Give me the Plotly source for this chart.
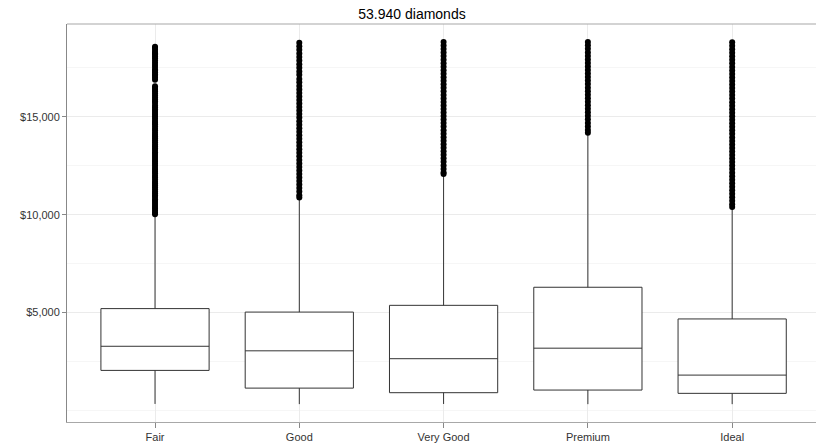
import plotly.graph_objects as go

cuts = ["Fair", "Good", "Very Good", "Premium", "Ideal"]
q1 = [2050, 1145, 912, 1046, 878]
median = [3282, 3050, 2648, 3185, 1810]
q3 = [5206, 5028, 5373, 6296, 4678]
lower_whisker = [337, 327, 336, 326, 326]
upper_whisker = [9930, 10850, 12060, 14170, 10380]

out_fair = [18574, 18531, 18420, 18307, 18242, 18188, 18080, 17995, 17880, 17760, 17648, 17540,
            17420, 17368, 17280, 17180, 17100, 17000, 16895, 16560, 16470, 16386, 16290, 16190,
            16090, 15990, 15890, 15790, 15700, 15584, 15490, 15390, 15300, 15190, 15100, 15000,
            14900, 14790, 14700, 14615, 14500, 14390, 14300, 14190, 14090, 13990, 13900, 13800,
            13700, 13590, 13500, 13400, 13300, 13190, 13100, 13000, 12900, 12790, 12700, 12600,
            12500, 12390, 12300, 12200, 12100, 11990, 11900, 11800, 11690, 11600, 11500, 11400,
            11300, 11190, 11100, 11000, 10900, 10790, 10700, 10600, 10500, 10400, 10300, 10200,
            10100, 10030]
out_good = [18788, 18600, 18420, 18230, 18050, 17870, 17690, 17500, 17320, 17150, 16930, 16760,
            16580, 16400, 16220, 16040, 15860, 15680, 15500, 15320, 15140, 14960, 14780, 14600,
            14420, 14240, 14060, 13880, 13700, 13520, 13340, 13160, 12980, 12800, 12620, 12440,
            12260, 12080, 11900, 11720, 11540, 11360, 11180, 11000, 10880]
out_verygood = [18818, 18640, 18460, 18280, 18100, 17920, 17740, 17560, 17380, 17200, 17020,
                16840, 16660, 16480, 16300, 16120, 15940, 15760, 15580, 15400, 15220, 15040,
                14860, 14680, 14500, 14320, 14140, 13960, 13780, 13600, 13420, 13240, 13060,
                12880, 12700, 12520, 12340, 12160, 12080]
out_premium = [18823, 18650, 18470, 18290, 18110, 17930, 17750, 17570, 17390, 17210, 17030,
               16850, 16670, 16490, 16310, 16130, 15950, 15770, 15590, 15410, 15230, 15050,
               14870, 14690, 14510, 14330, 14190]
out_ideal = [18806, 18630, 18450, 18270, 18090, 17910, 17730, 17550, 17370, 17190, 17010,
             16830, 16650, 16470, 16290, 16110, 15930, 15750, 15570, 15390, 15210, 15030,
             14850, 14670, 14490, 14310, 14130, 13950, 13770, 13590, 13410, 13230, 13050,
             12870, 12690, 12510, 12330, 12150, 11970, 11790, 11610, 11430, 11250, 11070,
             10890, 10710, 10530, 10400]
outliers = [out_fair, out_good, out_verygood, out_premium, out_ideal]

y_ticks = [5000, 10000, 15000]
y_tick_labels = ["$5,000", "$10,000", "$15,000"]
title_text = "53.940 diamonds"

fig = go.Figure()
for i, c in enumerate(cuts):
    fig.add_trace(go.Box(
        x=[c], q1=[q1[i]], median=[median[i]], q3=[q3[i]],
        lowerfence=[lower_whisker[i]], upperfence=[upper_whisker[i]],
        boxpoints=False, width=0.75, whiskerwidth=0,
        fillcolor="white", line=dict(color="#333333", width=1),
        showlegend=False, hoverinfo="skip"))
for i, c in enumerate(cuts):
    fig.add_trace(go.Scatter(
        x=[c] * len(outliers[i]), y=outliers[i], mode="markers",
        marker=dict(color="black", size=6, line=dict(width=0)),
        showlegend=False, hoverinfo="skip"))

font = "Liberation Sans, Arial, sans-serif"
fig.update_layout(
    width=816, height=447,
    margin=dict(l=67, r=0, t=24, b=25, autoexpand=False),
    paper_bgcolor="white", plot_bgcolor="white",
    font=dict(family=font, size=11, color="#333333"),
    title=dict(text=title_text, x=412/816, xref="container", xanchor="center",
               y=1 - 14/447, yref="container", yanchor="middle",
               font=dict(family=font, size=14, color="black")),
)
# top panel border (panel continues past the right edge of the picture)
fig.add_shape(type="line", xref="paper", yref="paper", x0=0, x1=1.02, y0=1, y1=1,
              line=dict(color="#a8a8a8", width=1.2), layer="above")
fig.update_xaxes(
    automargin=False,
    type="category", categoryorder="array", categoryarray=cuts,
    range=[-0.61, 4.581],
    showgrid=True, gridcolor="#ebebeb", gridwidth=1,
    showline=True, mirror=False, linecolor="#a8a8a8", linewidth=1.2,
    ticks="outside", ticklen=5, tickcolor="#888888", tickwidth=1,
    tickfont=dict(size=11, color="#333333"), zeroline=False,
)
fig.update_yaxes(
    automargin=False,
    range=[-585, 19740],
    tickmode="array", tickvals=y_ticks, ticktext=y_tick_labels,
    showgrid=True, gridcolor="#ebebeb", gridwidth=1,
    minor=dict(tickmode="array", tickvals=[0, 2500, 7500, 12500, 17500],
               showgrid=True, gridcolor="#f6f6f6", gridwidth=1, ticks=""),
    showline=True, mirror=False, linecolor="#888888", linewidth=1,
    ticks="outside", ticklen=4, tickcolor="#888888", tickwidth=1,
    tickfont=dict(size=11, color="#333333"), zeroline=False,
)
fig.write_html("out.html", config={"displayModeBar": False},
               post_script="document.body.style.margin='0';document.body.style.overflow='hidden';"
                           "document.documentElement.style.overflow='hidden';")
